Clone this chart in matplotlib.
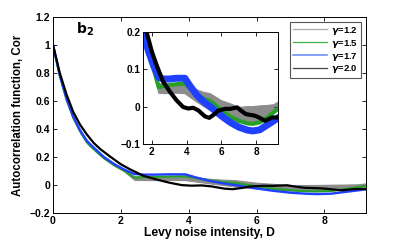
import numpy as np
import matplotlib
matplotlib.use('Agg')
import matplotlib.pyplot as plt
from matplotlib.lines import Line2D

plt.rcParams['font.family'] = ['Liberation Sans', 'DejaVu Sans']
plt.rcParams['font.weight'] = 'bold'

# colored curves (gamma = 1.2, 1.5, 1.7) share the same D grid
d_col = [0, 0.2, 0.4, 0.6, 0.8, 1.0, 1.1, 1.3, 1.5, 1.8, 2.1, 2.4, 2.7, 3.0, 3.4, 3.9,
         4.2, 4.6, 5.0, 5.35, 6.0, 6.5, 7.0, 7.5, 7.8, 8.2, 8.6, 9.0, 9.25]
cor_17 = [1.0, 0.785, 0.615, 0.485, 0.39, 0.315, 0.29, 0.245, 0.20, 0.15, 0.11, 0.078, 0.074, 0.074, 0.076, 0.076,
          0.055, 0.03, 0.012, 0.0, -0.025, -0.042, -0.055, -0.063, -0.065, -0.062, -0.05, -0.038, -0.03]
cor_15 = [1.0, 0.78, 0.61, 0.48, 0.383, 0.305, 0.28, 0.235, 0.193, 0.143, 0.102, 0.052, 0.056, 0.058, 0.06, 0.062,
          0.05, 0.032, 0.02, 0.015, -0.01, -0.027, -0.038, -0.045, -0.046, -0.042, -0.03, -0.015, -0.005]
cor_12_lo = [1.0, 0.775, 0.605, 0.475, 0.378, 0.30, 0.275, 0.23, 0.188, 0.138, 0.097, 0.036, 0.035, 0.035, 0.036, 0.035,
             0.025, 0.012, 0.0, -0.01, -0.025, -0.032, -0.038, -0.042, -0.042, -0.04, -0.03, -0.018, -0.01]
cor_12_hi = [1.0, 0.78, 0.61, 0.48, 0.385, 0.31, 0.285, 0.24, 0.198, 0.148, 0.107, 0.062, 0.06, 0.06, 0.062, 0.062,
             0.055, 0.045, 0.038, 0.035, 0.016, 0.008, -0.002, 0.0, 0.0, 0.002, 0.003, 0.005, 0.012]

d_20 = [0, 0.2, 0.4, 0.6, 0.8, 1.0, 1.2, 1.4, 1.7, 2.0, 2.27, 2.65, 3.04, 3.42, 3.8, 4.09, 4.38, 4.67,
        5.05, 5.3, 5.6, 5.8, 6.2, 6.5, 6.9, 7.1, 7.4, 7.9, 8.2, 8.5, 8.9, 9.25]
cor_20 = [1.0, 0.80, 0.645, 0.52, 0.43, 0.36, 0.30, 0.255, 0.20, 0.148, 0.112, 0.067, 0.04, 0.017, -0.001,
          -0.005, -0.003, -0.01, -0.026, -0.03, -0.02, -0.011, -0.006, -0.006, -0.002, -0.01, -0.02, -0.024,
          -0.03, -0.038, -0.029, -0.029]

labels = [r'$\gamma$=1.2', r'$\gamma$=1.5', r'$\gamma$=1.7', r'$\gamma$=2.0']
c_gray, c_green, c_blue, c_black = '#8c8c8c', '#26a026', '#2040ff', 'black'


def draw(ax, lw_g, lw_b, lw_k):
    ax.fill_between(d_col, cor_12_lo, cor_12_hi, color=c_gray, lw=0.8, edgecolor=c_gray)
    ax.plot(d_col, cor_15, color=c_green, lw=lw_g)
    ax.plot(d_col, cor_17, color=c_blue, lw=lw_b)
    ax.plot(d_20, cor_20, color=c_black, lw=lw_k)


def style(ax, fs):
    ax.tick_params(direction='in', length=3, width=0.6, top=True, right=True, labelsize=fs, pad=2)
    for s in ax.spines.values():
        s.set_linewidth(0.7)
    for t in ax.get_xticklabels() + ax.get_yticklabels():
        t.set_fontweight('bold')


fig = plt.figure(figsize=(4.03, 2.4), dpi=100)
ax = fig.add_axes([0.1315, 0.1125, 0.777, 0.817])
draw(ax, 1.6, 1.7, 1.6)
ax.set_xlim(0, 9.23)
ax.set_ylim(-0.2, 1.2)
ax.set_xticks([0, 2, 4, 6, 8])
ax.set_yticks([-0.2, 0, 0.2, 0.4, 0.6, 0.8, 1.0, 1.2])
ax.set_yticklabels(['\u22120.2', '0', '0.2', '0.4', '0.6', '0.8', '1', '1.2'])
ax.set_xlabel('Levy noise intensity, D', fontsize=8.7, fontweight='bold', labelpad=1)
ax.set_ylabel('Autocorrelation function, Cor', fontsize=8.3, fontweight='bold', labelpad=4)
style(ax, 7.5)
ax.text(0.68, 1.08, r'$\mathbf{b_2}$', fontsize=10)

handles = [Line2D([], [], color='#aaaaaa', lw=0.9),
           Line2D([], [], color='#44b044', lw=0.9),
           Line2D([], [], color='#7090ff', lw=1.2),
           Line2D([], [], color='#444444', lw=0.9)]
leg = ax.legend(handles, labels, loc='upper right', bbox_to_anchor=(0.983, 0.975),
                borderaxespad=0, fontsize=6.8, handlelength=3.6, handletextpad=0.4,
                labelspacing=0.1, borderpad=0.3, fancybox=False, framealpha=1)
leg.get_frame().set_edgecolor('#555555')
leg.get_frame().set_linewidth(0.8)
for t in leg.get_texts():
    t.set_fontweight('bold')

ins = fig.add_axes([0.355, 0.4, 0.335, 0.467])
draw(ins, 3.0, 5.0, 3.0)
ins.set_xlim(1.5, 9.25)
ins.set_ylim(-0.1, 0.2)
ins.set_xticks([2, 4, 6, 8])
ins.set_yticks([-0.1, 0, 0.1, 0.2])
ins.set_yticklabels(['\u22120.1', '0', '0.1', '0.2'])
style(ins, 7.2)

fig.savefig('out.png', dpi=100)
